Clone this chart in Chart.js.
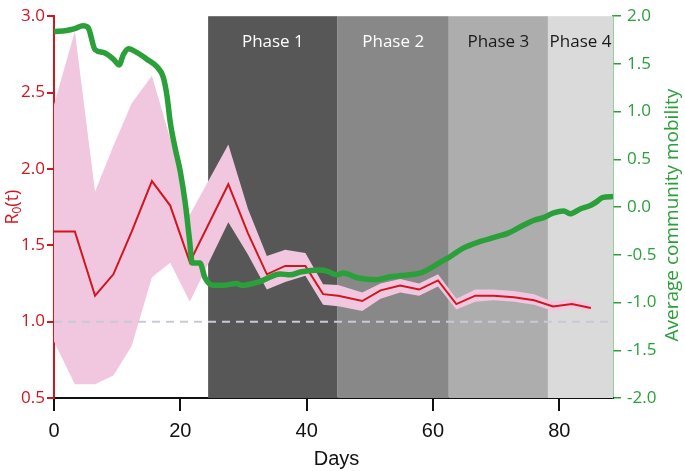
<!DOCTYPE html>
<html>
<head>
<meta charset="utf-8">
<script src="https://cdn.jsdelivr.net/npm/chart.js@4/dist/chart.umd.min.js"></script>
<style>
  html, body { margin: 0; padding: 0; background: #fff; }
  #wrap { width: 685px; height: 471px; }
</style>
</head>
<body>
<div id="wrap"><canvas id="graph"></canvas></div>
<script>
// R0(t) estimates with their band
const r0Days = [0, 3.3, 6.5, 9.4, 12.3, 15.5, 18.4, 21.5, 27.6, 30.7, 33.7, 36.6, 39.8, 42.6, 45, 48.8, 51.7, 54.8, 57.8, 60.8, 63.7, 66.7, 69.6, 72.8, 76, 79, 82, 85];
const r0Mean = [1.59, 1.59, 1.17, 1.31, 1.59, 1.92, 1.76, 1.39, 1.90, 1.58, 1.31, 1.365, 1.365, 1.18, 1.17, 1.135, 1.205, 1.237, 1.21, 1.27, 1.115, 1.17, 1.17, 1.16, 1.14, 1.10, 1.115, 1.09];
const r0Upper = [2.42, 2.90, 1.85, 2.15, 2.43, 2.61, 2.20, 1.70, 2.16, 1.74, 1.43, 1.47, 1.45, 1.245, 1.24, 1.19, 1.25, 1.28, 1.25, 1.31, 1.15, 1.21, 1.21, 1.20, 1.18, 1.13, 1.145, 1.11];
const r0Lower = [0.87, 0.59, 0.59, 0.647, 0.84, 1.29, 1.385, 1.13, 1.65, 1.44, 1.21, 1.26, 1.30, 1.11, 1.10, 1.07, 1.15, 1.19, 1.17, 1.23, 1.08, 1.13, 1.14, 1.13, 1.11, 1.07, 1.09, 1.07];

// average community mobility
const mobDays = [0, 2, 3.3, 4.6, 5.4, 6.5, 7.8, 9.4, 10.3, 11, 11.8, 13.1, 14.7, 16.3, 17.3, 17.9, 18.4, 19.2, 20, 20.8, 21.4, 21.9, 23.1, 23.9, 25.2, 26.8, 28.9, 29.7, 32.6, 35.8, 37.4, 39, 42.1, 43.2, 44.8, 45.8, 48, 51.1, 53.2, 54.8, 58, 59.6, 61.1, 62.7, 64.8, 67.5, 70.1, 72, 74.3, 75.9, 77.5, 79.1, 80.7, 81.7, 83.3, 85, 86, 86.8, 88.5];
const mobility = [1.84, 1.85, 1.87, 1.90, 1.88, 1.65, 1.62, 1.55, 1.49, 1.60, 1.66, 1.62, 1.55, 1.47, 1.36, 1.16, 0.89, 0.61, 0.37, 0.03, -0.31, -0.585, -0.585, -0.74, -0.82, -0.82, -0.80, -0.82, -0.78, -0.70, -0.71, -0.68, -0.66, -0.67, -0.71, -0.69, -0.74, -0.76, -0.73, -0.72, -0.69, -0.64, -0.58, -0.52, -0.43, -0.36, -0.31, -0.27, -0.19, -0.14, -0.11, -0.06, -0.04, -0.07, -0.02, 0.02, 0.06, 0.10, 0.11];

// phases
const phaseNames = ['Phase 1', 'Phase 2', 'Phase 3', 'Phase 4'];
const phaseStart = [24.4, 44.9, 62.5, 78.2];
const phaseEnd = [44.9, 62.5, 78.2, 88.5];
const phaseColors = ['#575757', '#888888', '#adadad', '#d9dad9'];
const phaseText = ['#ffffff', '#ffffff', '#1a1a1a', '#1a1a1a'];

const xTicks = [0, 20, 40, 60, 80];
const dayMax = 88.5;
const threshold = 1.0;

const RED = '#d0161f';
const GREEN = '#2ba03a';
const PINK = '#f1c6df';

function pts(xs, ys) {
    return xs.map((x, i) => ({x: x, y: ys[i]}));
}

const phasePlugin = {
    id: 'phases',
    beforeDatasetsDraw: (chart) => {
        const {ctx, chartArea, scales} = chart;
        ctx.save();
        phaseNames.forEach((name, i) => {
            const x0 = scales.x.getPixelForValue(phaseStart[i]);
            const x1 = scales.x.getPixelForValue(phaseEnd[i]);
            ctx.fillStyle = phaseColors[i];
            ctx.fillRect(x0, chartArea.top, x1 - x0, chartArea.bottom - chartArea.top);
            ctx.fillStyle = phaseText[i];
            ctx.font = '17px "Open Sans"';
            ctx.textAlign = 'center';
            ctx.textBaseline = 'middle';
            ctx.fillText(name, (x0 + x1) / 2, chartArea.top + 26);
        });
        ctx.restore();
    }
};

const titlePlugin = {
    id: 'titles',
    afterDraw: (chart) => {
        const {ctx, chartArea} = chart;
        const midY = (chartArea.top + chartArea.bottom) / 2;
        ctx.save();
        // left title R0(t)
        ctx.translate(13, midY);
        ctx.rotate(-Math.PI / 2);
        ctx.fillStyle = RED;
        ctx.textBaseline = 'middle';
        ctx.textAlign = 'left';
        ctx.font = '18px "Open Sans"';
        const wR = ctx.measureText('R').width;
        const wt = ctx.measureText('(t)').width;
        ctx.font = '12px "Open Sans"';
        const w0 = ctx.measureText('0').width;
        let start = -(wR + w0 + wt) / 2;
        ctx.font = '18px "Open Sans"';
        ctx.fillText('R', start, 0);
        ctx.font = '12px "Open Sans"';
        ctx.fillText('0', start + wR, 5);
        ctx.font = '18px "Open Sans"';
        ctx.fillText('(t)', start + wR + w0, 0);
        ctx.restore();

        ctx.save();
        ctx.translate(673, midY + 8);
        ctx.rotate(-Math.PI / 2);
        ctx.fillStyle = GREEN;
        ctx.textAlign = 'center';
        ctx.textBaseline = 'middle';
        ctx.font = '19px "Open Sans"';
        ctx.fillText('Average community mobility', 0, 0);
        ctx.restore();

        ctx.save();
        ctx.fillStyle = '#111';
        ctx.textAlign = 'center';
        ctx.textBaseline = 'middle';
        ctx.font = '20px "Liberation Sans"';
        ctx.fillText('Days', (chartArea.left + chartArea.right) / 2 + 3, 459);
        ctx.restore();
    }
};

const ctx = document.getElementById('graph');
const chart = new Chart(ctx, {
    type: 'line',
    data: {
        datasets: [
            {
                data: pts(r0Days, r0Upper),
                yAxisID: 'y',
                borderWidth: 0,
                pointRadius: 0,
                backgroundColor: PINK,
                fill: '+1',
                order: 5
            },
            {
                data: pts(r0Days, r0Lower),
                yAxisID: 'y',
                borderWidth: 0,
                pointRadius: 0,
                fill: false,
                order: 5
            },
            {
                data: [{x: 0, y: threshold}, {x: dayMax, y: threshold}],
                yAxisID: 'y',
                borderColor: '#c9c9d5',
                borderWidth: 2,
                borderDash: [8, 6],
                pointRadius: 0,
                fill: false,
                order: 4
            },
            {
                data: pts(r0Days, r0Mean),
                yAxisID: 'y',
                borderColor: RED,
                borderWidth: 2,
                pointRadius: 0,
                fill: false,
                order: 3
            },
            {
                data: pts(mobDays, mobility),
                yAxisID: 'y1',
                borderColor: GREEN,
                borderWidth: 5.5,
                pointRadius: 0,
                cubicInterpolationMode: 'monotone',
                fill: false,
                order: 1
            }
        ]
    },
    options: {
        responsive: true,
        maintainAspectRatio: false,
        animation: false,
        layout: { padding: { top: 8, left: 0, right: 0, bottom: 0 } },
        plugins: {
            legend: { display: false },
            tooltip: { enabled: false }
        },
        scales: {
            x: {
                type: 'linear',
                min: 0,
                max: dayMax,
                afterBuildTicks: (scale) => { scale.ticks = xTicks.map(v => ({value: v})); },
                afterFit: (scale) => { scale.height = 73; },
                border: { display: true, color: '#111', width: 2 },
                grid: { drawOnChartArea: false, drawTicks: true, tickLength: 13, color: '#111', lineWidth: 2 },
                ticks: { color: '#111', font: { family: 'Liberation Sans', size: 20 }, padding: 8, maxRotation: 0 }
            },
            y: {
                position: 'left',
                min: 0.5,
                max: 3.0,
                afterFit: (scale) => { scale.width = 54; },
                border: { display: true, color: RED, width: 2 },
                grid: { drawOnChartArea: false, drawTicks: true, tickLength: 7, color: RED, lineWidth: 2 },
                ticks: { stepSize: 0.5, color: RED, font: { family: 'Open Sans', size: 17 }, padding: 2,
                    callback: (v) => v.toFixed(1) }
            },
            y1: {
                position: 'right',
                min: -2,
                max: 2,
                afterFit: (scale) => { scale.width = 72; },
                border: { display: true, color: GREEN, width: 1.5 },
                grid: { drawOnChartArea: false, drawTicks: true, tickLength: 8, color: GREEN, lineWidth: 1.5 },
                ticks: { stepSize: 0.5, color: GREEN, font: { family: 'Open Sans', size: 17 }, padding: 6,
                    callback: (v) => v.toFixed(1) }
            }
        }
    },
    plugins: [phasePlugin, titlePlugin]
});
</script>
</body>
</html>
